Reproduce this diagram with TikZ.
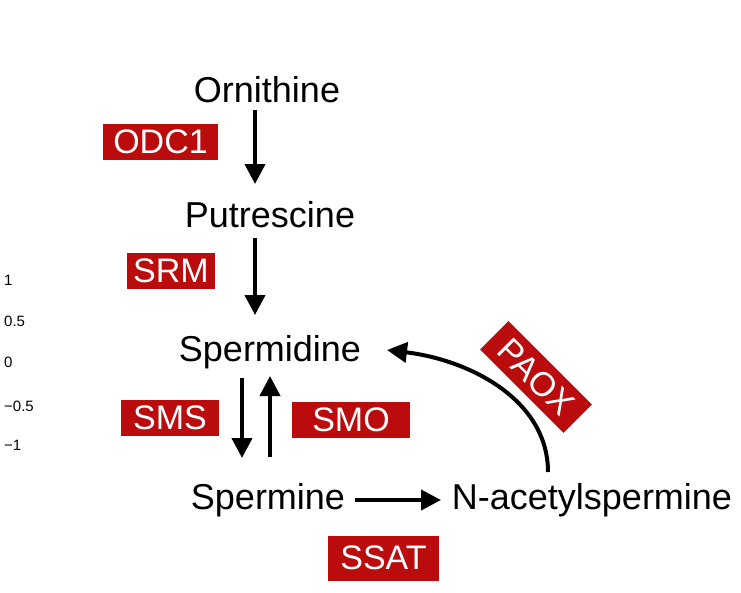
\documentclass[tikz,border=0pt]{standalone}
\usepackage{fontspec}
\setmainfont{Liberation Sans}
\usetikzlibrary{arrows.meta}
\definecolor{enz}{HTML}{BA0C0C}
\begin{document}
\begin{tikzpicture}[x=1pt,y=-1pt,
  met/.style={font=\fontsize{36}{38}\selectfont,inner sep=0pt},
  enzbox/.style={fill=enz,text=white,font=\fontsize{34}{36}\selectfont,inner sep=0pt,minimum height=36pt},
  ax/.style={font=\fontsize{15}{17}\selectfont,anchor=west,inner sep=0pt},
  arr/.style={line width=4pt,-{Triangle[length=20pt,width=20pt]}}]
\useasboundingbox (0,0) rectangle (741,592);
\node[met] (orn) at (267,90) {Ornithine};
\node[met] (put) at (270,215) {Putrescine};
\node[met] (spd) at (270,352) {Spermidine};
\node[met] (spm) at (268,500) {Spermine};
\node[met] (nac) at (592,500) {N-acetylspermine};
\node[enzbox,minimum width=115pt] (odc) at (160.5,142) {ODC1};
\node[enzbox,minimum width=88pt] (srm) at (171,271) {SRM};
\node[enzbox,minimum width=98pt] (sms) at (170,418) {SMS};
\node[enzbox,minimum width=118pt] (smo) at (351,420) {SMO};
\node[enzbox,minimum width=111pt,minimum height=45pt] (ssat) at (383.5,558) {SSAT};
\node[enzbox,minimum width=118pt,minimum height=40pt,rotate=-45] (paox) at (536,377) {PAOX};
\node[ax] (a1) at (4,280) {1};
\node[ax] (a2) at (4,321) {0.5};
\node[ax] (a3) at (4,362) {0};
\node[ax] (a4) at (4,406) {−0.5};
\node[ax] (a5) at (4,445) {−1};
\coordinate (o1) at (255,110); \coordinate (o2) at (255,184);
\draw[arr] (o1) -- (o2);
\coordinate (p1) at (255,238); \coordinate (p2) at (255,315);
\draw[arr] (p1) -- (p2);
\coordinate (s1) at (242,378); \coordinate (s2) at (242,458);
\draw[arr] (s1) -- (s2);
\coordinate (t1) at (270,457); \coordinate (t2) at (270,376);
\draw[arr] (t1) -- (t2);
\coordinate (u1) at (355,500); \coordinate (u2) at (441,500);
\draw[arr] (u1) -- (u2);
\coordinate (v1) at (548,472); \coordinate (v2) at (387,350);
\draw[arr] (v1) .. controls (548,400) and (470,360) .. (v2);
\end{tikzpicture}
\end{document}
